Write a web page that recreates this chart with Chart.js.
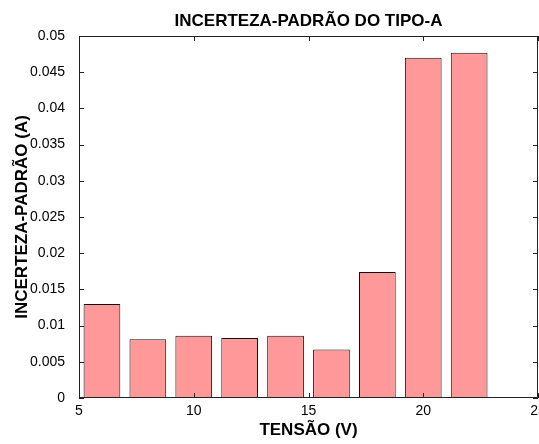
<!DOCTYPE html>
<html>
<head>
<meta charset="utf-8">
<script src="https://cdn.jsdelivr.net/npm/chart.js@4/dist/chart.umd.min.js"></script>
<style>
  html, body { margin: 0; padding: 0; background: #fff; }
  canvas { display: block; }
</style>
</head>
<body>
<canvas id="incerteza" width="539" height="444"></canvas>
<script>
// dados
const tensao = [6, 8, 10, 12, 14, 16, 18, 20, 22];
const incerteza = [0.0130, 0.0081, 0.0086, 0.0083, 0.0086, 0.0067, 0.0174, 0.0470, 0.0477];

const xTickValues = [5, 10, 15, 20, 25];
const xTickLabels = ['5', '10', '15', '20', '25'];
const yTickValues = [0, 0.005, 0.01, 0.015, 0.02, 0.025, 0.03, 0.035, 0.04, 0.045, 0.05];
const yTickLabels = ['0', '0.005', '0.01', '0.015', '0.02', '0.025', '0.03', '0.035', '0.04', '0.045', '0.05'];

const fonte = "'Liberation Sans', Arial, sans-serif";

// caixa e marcas para dentro (estilo matlab)
const moldura = {
  id: 'moldura',
  afterDatasetsDraw(chart) {
    const { ctx, chartArea: a, scales: { x, y } } = chart;
    ctx.save();
    ctx.strokeStyle = '#222';
    ctx.lineWidth = 1;
    ctx.beginPath();
    xTickValues.forEach(function (v) {
      const px = Math.round(x.getPixelForValue(v)) + 0.5;
      ctx.moveTo(px, a.bottom);
      ctx.lineTo(px, a.bottom - 5);
      ctx.moveTo(px, a.top);
      ctx.lineTo(px, a.top + 5);
    });
    yTickValues.forEach(function (v) {
      const py = Math.round(y.getPixelForValue(v)) + 0.5;
      ctx.moveTo(a.left, py);
      ctx.lineTo(a.left + 5, py);
      ctx.moveTo(a.right, py);
      ctx.lineTo(a.right - 5, py);
    });
    ctx.stroke();
    ctx.strokeRect(a.left + 0.5, a.top + 0.5, a.right - a.left - 1, a.bottom - a.top - 1);
    ctx.restore();
  }
};

const grafico = new Chart(document.getElementById('incerteza'), {
  type: 'bar',
  data: {
    labels: tensao,
    datasets: [{
      label: 'Incerteza-padrão',
      data: incerteza,
      backgroundColor: 'rgb(255, 153, 153)',
      borderColor: '#111',
      borderWidth: 1,
      barPercentage: 0.8,
      categoryPercentage: 1.0
    }]
  },
  options: {
    responsive: false,
    animation: false,
    layout: { padding: { top: 0, left: 0, right: 1, bottom: 0 } },
    plugins: {
      legend: { display: false },
      tooltip: { enabled: false }
    },
    scales: {
      x: {
        type: 'linear',
        min: 5,
        max: 25,
        offset: false,
        grid: { display: false, offset: false },
        border: { display: false },
        afterBuildTicks: function (scale) {
          scale.ticks = xTickValues.map(function (v) { return { value: v }; });
        },
        afterFit: function (scale) {
          scale.height = 46;
          scale.paddingLeft = 0;
          scale.paddingRight = 0;
        },
        ticks: {
          color: '#000',
          padding: -3,
          maxRotation: 0,
          autoSkip: false,
          font: { family: fonte, size: 14 },
          callback: function (v, i) { return xTickLabels[i]; }
        },
        title: {
          display: true,
          text: 'TENSÃO (V)',
          color: '#000',
          font: { family: fonte, size: 17, weight: 'bold' },
          padding: { top: 0, bottom: 3 }
        }
      },
      x2: {
        type: 'linear',
        position: 'top',
        min: 5,
        max: 25,
        grid: { display: false },
        border: { display: false },
        ticks: { display: false },
        afterFit: function (scale) {
          scale.height = 36;
          scale.paddingLeft = 0;
          scale.paddingRight = 0;
        },
        title: {
          display: true,
          text: 'INCERTEZA-PADRÃO DO TIPO-A',
          color: '#000',
          font: { family: fonte, size: 17, weight: 'bold' },
          padding: { top: 11, bottom: 0 }
        }
      },
      y: {
        min: 0,
        max: 0.05,
        grid: { display: false },
        border: { display: false },
        afterBuildTicks: function (scale) {
          scale.ticks = yTickValues.map(function (v) { return { value: v }; });
        },
        afterFit: function (scale) {
          scale.width = 79;
          scale.paddingTop = 0;
          scale.paddingBottom = 0;
        },
        ticks: {
          color: '#000',
          padding: 6,
          autoSkip: false,
          font: { family: fonte, size: 14 },
          callback: function (v, i) { return yTickLabels[i]; }
        },
        title: {
          display: true,
          text: 'INCERTEZA-PADRÃO (A)',
          color: '#000',
          font: { family: fonte, size: 17, weight: 'bold' },
          padding: { top: 12, bottom: 0 }
        }
      }
    }
  },
  plugins: [moldura]
});
</script>
</body>
</html>
